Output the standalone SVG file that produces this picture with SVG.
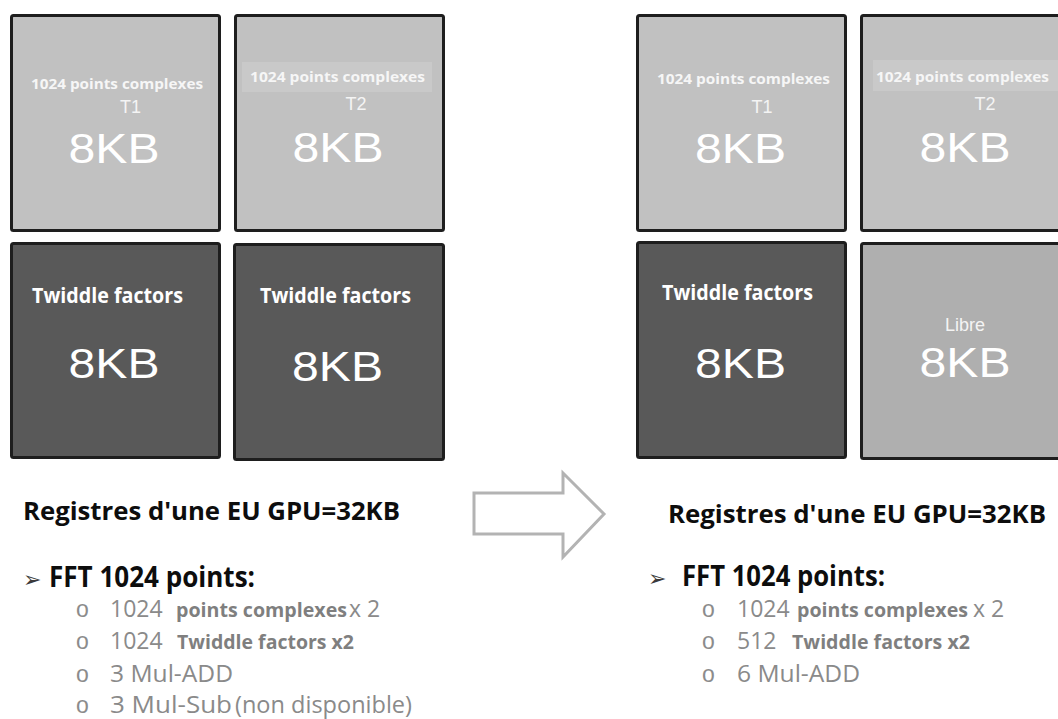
<svg xmlns="http://www.w3.org/2000/svg" width="1058" height="719" viewBox="0 0 1058 719">
<style>
.box{stroke:#1e1e1e;stroke-width:3}
.light{fill:#c1c1c1}
.dark{fill:#595959}
.free{fill:#afafaf}
.hl{fill:#c9c9c9}
.big{font-family:"Liberation Sans",Arial,sans-serif;font-size:42px;fill:#ffffff;text-anchor:middle}
.t{font-family:"Liberation Sans",Arial,sans-serif;font-size:18px;fill:#f4f4f4;text-anchor:middle}
.pc{font-family:"Open Sans",sans-serif;font-weight:bold;font-size:15px;fill:#f6f6f6}
.tw{font-family:"Open Sans",sans-serif;font-weight:bold;font-size:21px;fill:#ffffff}
.title{font-family:"Open Sans",sans-serif;font-weight:bold;font-size:25px;fill:#0d0d0d}
.fft{font-family:"Open Sans",sans-serif;font-weight:bold;font-size:28px;fill:#0d0d0d}
.arr{font-family:"DejaVu Sans",sans-serif;font-size:22px;fill:#3a3a3a}
.bul{font-family:"Liberation Sans",Arial,sans-serif;font-size:23px;fill:#8c8c8c}
.num{font-family:"Open Sans",sans-serif;font-size:23px;fill:#8a8a8a}
.bld{font-family:"Open Sans",sans-serif;font-weight:bold;font-size:19px;fill:#7f7f7f}
</style>

<g id="connectors">
<polygon points="474,493 563,493 563,473 604,514 563,557 563,534 474,534" fill="#ffffff" stroke="#b3b3b3" stroke-width="3" stroke-linejoin="miter"/>
</g>

<!-- Left configuration -->
<g id="left-t1">
<rect class="box light" x="11.5" y="15.5" width="208" height="215" rx="2"/>
<text class="pc" x="31" y="89" textLength="172" lengthAdjust="spacingAndGlyphs">1024 points complexes</text>
<text class="t" x="130.5" y="113">T1</text>
<text class="big" x="114" y="163" textLength="91" lengthAdjust="spacingAndGlyphs">8KB</text>
</g>
<g id="left-t2">
<rect class="box light" x="235.5" y="15.5" width="208" height="215" rx="2"/>
<rect class="hl" x="242" y="62" width="190" height="30"/>
<text class="pc" x="250" y="82" textLength="175" lengthAdjust="spacingAndGlyphs">1024 points complexes</text>
<text class="t" x="356" y="110">T2</text>
<text class="big" x="338" y="162" textLength="91" lengthAdjust="spacingAndGlyphs">8KB</text>
</g>
<g id="left-tw1">
<rect class="box dark" x="11.5" y="243.5" width="208" height="214" rx="2"/>
<text class="tw" x="32" y="303" textLength="151" lengthAdjust="spacingAndGlyphs">Twiddle factors</text>
<text class="big" x="114" y="378" textLength="91" lengthAdjust="spacingAndGlyphs">8KB</text>
</g>
<g id="left-tw2">
<rect class="box dark" x="234.5" y="244.5" width="209" height="215" rx="2"/>
<text class="tw" x="260" y="303" textLength="151" lengthAdjust="spacingAndGlyphs">Twiddle factors</text>
<text class="big" x="337.5" y="381" textLength="91" lengthAdjust="spacingAndGlyphs">8KB</text>
</g>

<g id="left-text">
<text class="title" x="23" y="520" textLength="377" lengthAdjust="spacingAndGlyphs">Registres d'une EU GPU=32KB</text>
<text class="arr" x="23" y="587">➢</text>
<text class="fft" x="49" y="587" textLength="206" lengthAdjust="spacingAndGlyphs">FFT 1024 points:</text>
<text class="bul" x="76" y="617">o</text>
<text class="num" x="110" y="617">1024</text>
<text class="bld" x="176" y="617" textLength="171" lengthAdjust="spacingAndGlyphs">points complexes</text>
<text class="num" x="349" y="617">x 2</text>
<text class="bul" x="76" y="649">o</text>
<text class="num" x="110" y="649">1024</text>
<text class="bld" x="177" y="649" textLength="177" lengthAdjust="spacingAndGlyphs">Twiddle factors x2</text>
<text class="bul" x="76" y="682">o</text>
<text class="num" x="110" y="682" textLength="123" lengthAdjust="spacingAndGlyphs">3 Mul-ADD</text>
<text class="bul" x="76" y="713">o</text>
<text class="num" x="110" y="713" textLength="122" lengthAdjust="spacingAndGlyphs">3 Mul-Sub</text>
<text class="num" x="235" y="713" textLength="177" lengthAdjust="spacingAndGlyphs">(non disponible)</text>
</g>

<!-- Right configuration -->
<g id="right-t1">
<rect class="box light" x="637.5" y="15.5" width="208" height="215" rx="2"/>
<text class="pc" x="657" y="84" textLength="173" lengthAdjust="spacingAndGlyphs">1024 points complexes</text>
<text class="t" x="762" y="113">T1</text>
<text class="big" x="740.5" y="163" textLength="91" lengthAdjust="spacingAndGlyphs">8KB</text>
</g>
<g id="right-t2">
<rect class="box light" x="861.5" y="15.5" width="208" height="215" rx="2"/>
<rect class="hl" x="873" y="60" width="190" height="31"/>
<text class="pc" x="876" y="82" textLength="173" lengthAdjust="spacingAndGlyphs">1024 points complexes</text>
<text class="t" x="985" y="110">T2</text>
<text class="big" x="965" y="162" textLength="91" lengthAdjust="spacingAndGlyphs">8KB</text>
</g>
<g id="right-tw">
<rect class="box dark" x="637.5" y="242.5" width="208" height="215" rx="2"/>
<text class="tw" x="662" y="300" textLength="151" lengthAdjust="spacingAndGlyphs">Twiddle factors</text>
<text class="big" x="740.5" y="378" textLength="91" lengthAdjust="spacingAndGlyphs">8KB</text>
</g>
<g id="right-libre">
<rect class="box free" x="861.5" y="243.5" width="208" height="215" rx="2"/>
<text class="t" x="965" y="331">Libre</text>
<text class="big" x="965" y="377" textLength="91" lengthAdjust="spacingAndGlyphs">8KB</text>
</g>

<g id="right-text">
<text class="title" x="668" y="523" textLength="378" lengthAdjust="spacingAndGlyphs">Registres d'une EU GPU=32KB</text>
<text class="arr" x="648" y="586">➢</text>
<text class="fft" x="682" y="586" textLength="203" lengthAdjust="spacingAndGlyphs">FFT 1024 points:</text>
<text class="bul" x="702" y="617">o</text>
<text class="num" x="737" y="617">1024</text>
<text class="bld" x="797" y="617" textLength="171" lengthAdjust="spacingAndGlyphs">points complexes</text>
<text class="num" x="973" y="617">x 2</text>
<text class="bul" x="702" y="649">o</text>
<text class="num" x="737" y="649">512</text>
<text class="bld" x="792" y="649" textLength="178" lengthAdjust="spacingAndGlyphs">Twiddle factors x2</text>
<text class="bul" x="702" y="682">o</text>
<text class="num" x="737" y="682" textLength="123" lengthAdjust="spacingAndGlyphs">6 Mul-ADD</text>
</g>
</svg>
